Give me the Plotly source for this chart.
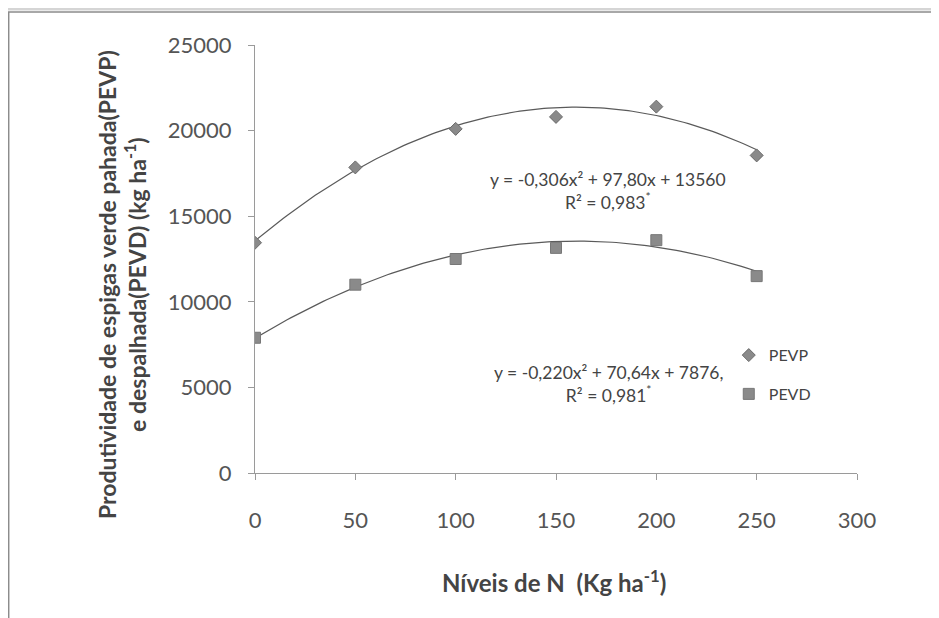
import numpy as np
import plotly.graph_objects as go

# ---- data ----
nitrogen = [0, 50, 100, 150, 200, 250]
pevp = [13450, 17850, 20100, 20800, 21400, 18550]
pevd = [7900, 11000, 12500, 13150, 13600, 11500]

# quadratic trendline coefficients printed on the chart
pevp_coef = [-0.306, 97.80, 13560]
pevd_coef = [-0.220, 70.64, 7876]

x_ticks = [0, 50, 100, 150, 200, 250, 300]
y_ticks = [0, 5000, 10000, 15000, 20000, 25000]
y_tick_text = ["0", "5000", "10000", "15000", "20000", "25000"]

FONT = "Lato, 'Open Sans', sans-serif"
AX = "#9a9a9a"
TXT = "#555555"

L, T, W, H = 247, 37, 602, 428

xs = np.linspace(0, 250, 126)

fig = go.Figure()
fig.add_trace(go.Scatter(x=xs, y=np.polyval(pevp_coef, xs), mode="lines",
                         line=dict(color="#5a5a5a", width=1.2), showlegend=False, hoverinfo="skip"))
fig.add_trace(go.Scatter(x=xs, y=np.polyval(pevd_coef, xs), mode="lines",
                         line=dict(color="#5a5a5a", width=1.2), showlegend=False, hoverinfo="skip"))
fig.add_trace(go.Scatter(x=nitrogen, y=pevp, mode="markers", name="PEVP", legendgroup="a",
                         marker=dict(symbol="diamond", size=10, color="#8a8a8a",
                                     line=dict(color="#6a6a6a", width=1))))
fig.add_trace(go.Scatter(x=nitrogen, y=pevd, mode="markers", name="PEVD", legendgroup="b",
                         marker=dict(symbol="square", size=11, color="#8a8a8a",
                                     line=dict(color="#777777", width=1))))

fig.update_layout(
    width=939, height=618, autosize=False,
    margin=dict(l=L, r=939 - L - W, t=T, b=618 - T - H),
    paper_bgcolor="white", plot_bgcolor="white",
    font=dict(family=FONT, color=TXT),
    legend=dict(x=0.787, y=0.315, xanchor="left", yanchor="top",
                font=dict(size=16, color="#444444", family=FONT),
                bgcolor="rgba(0,0,0,0)", tracegroupgap=15),
    showlegend=True,
)
fig.update_xaxes(range=[0, 300], tickvals=x_ticks, showgrid=False, zeroline=False,
                 showline=True, linecolor=AX, linewidth=1, ticks="outside", ticklen=6,
                 tickcolor=AX, tickfont=dict(size=22, color=TXT, family=FONT),
                 ticklabelstandoff=22)
fig.update_yaxes(range=[0, 25000], tickvals=y_ticks, ticktext=y_tick_text,
                 showgrid=False, zeroline=False,
                 showline=True, linecolor=AX, linewidth=1, ticks="outside", ticklen=6,
                 tickcolor=AX, tickfont=dict(size=22, color=TXT, family=FONT),
                 ticklabelstandoff=12)

# axis titles
fig.add_annotation(xref="paper", yref="paper", x=0.497, y=-0.253, showarrow=False,
                   text="<b>Níveis de N  (Kg ha<sup>-1</sup>)</b>",
                   font=dict(size=24, color="#444444", family=FONT), yanchor="middle")
fig.add_annotation(xref="paper", yref="paper", x=-0.222, y=0.44, showarrow=False,
                   textangle=-90, xanchor="center", yanchor="middle",
                   text="<b>Produtividade de espigas verde pahada(PEVP)<br>e despalhada(PEVD) (kg ha<sup>-1</sup>)</b>",
                   font=dict(size=23, color="#444444", family=FONT))

# equations
fig.add_annotation(x=176, y=16500, showarrow=False,
                   text="y = -0,306x² + 97,80x + 13560<br>R² = 0,983<sup>*</sup>",
                   font=dict(size=17.5, color="#444444", family=FONT))
fig.add_annotation(x=176, y=5200, showarrow=False,
                   text="y = -0,220x² + 70,64x + 7876,<br>R² = 0,981<sup>*</sup>",
                   font=dict(size=17.5, color="#444444", family=FONT))

# frame of the scanned figure
fig.add_shape(type="rect", xref="x domain", yref="y domain",
              x0=(0.7 - L) / W, x1=(931 - L) / W,
              y0=(T + H - 650) / H, y1=(T + H - 4) / H,
              line=dict(color="#8c8c8c", width=1.5), fillcolor="rgba(0,0,0,0)", layer="below")
fig.add_shape(type="rect", xref="x domain", yref="y domain",
              x0=(0 - L) / W, x1=(939 - L) / W,
              y0=(T + H - 2.5) / H, y1=(T + H + 1) / H,
              line=dict(width=0), fillcolor="#d5d5d5", layer="below")

fig.write_html("out.html")
